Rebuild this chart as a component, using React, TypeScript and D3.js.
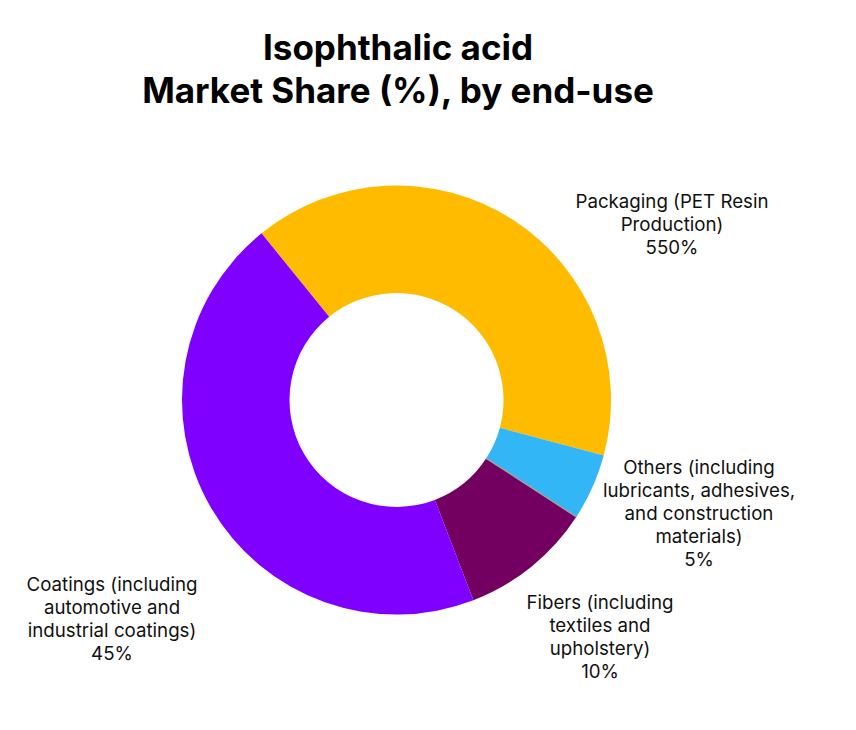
import React from "react";
import * as d3 from "d3";

const categories = [
  "Packaging (PET Resin Production)",
  "Others (including lubricants, adhesives, and construction materials)",
  "Fibers (including textiles and upholstery)",
  "Coatings (including automotive and industrial coatings)",
];
const values = [40, 5, 10, 45];
const valueLabels = ["550%", "5%", "10%", "45%"];
const labelLines = [
  ["Packaging (PET Resin", "Production)", "550%"],
  ["Others (including", "lubricants, adhesives,", "and construction", "materials)", "5%"],
  ["Fibers (including", "textiles and", "upholstery)", "10%"],
  ["Coatings (including", "automotive and", "industrial coatings)", "45%"],
];
const colors = ["#FFBB00", "#33B6F5", "#730060", "#8000FF"];
const titleLines = ["Isophthalic acid", "Market Share (%), by end-use"];

// layout (label anchor offsets relative to donut centre; first line centre)
const labelAnchors: [number, number][] = [
  [275.5, -199],
  [302.5, 67],
  [203.5, 202],
  [-284.5, 184],
];

export default function App() {
  const W = 856, H = 730;
  const cx = 396.5, cy = 400;
  const rOuter = 214.5, rInner = 107;
  const startDeg = -39;
  const pie = d3
    .pie<number>()
    .sort(null)
    .value((d) => d)
    .startAngle((startDeg * Math.PI) / 180)
    .endAngle(((startDeg + 360) * Math.PI) / 180);
  const arcs = pie(values);
  const arc = d3.arc<d3.PieArcDatum<number>>().innerRadius(rInner).outerRadius(rOuter);
  const lineH = 23.2;
  const sepA = arcs[1].endAngle;
  const sx1 = Math.sin(sepA) * rInner, sy1 = -Math.cos(sepA) * rInner;
  const sx2 = Math.sin(sepA) * rOuter, sy2 = -Math.cos(sepA) * rOuter;
  return (
    <svg width={W} height={H} style={{ position: "absolute", left: 0, top: 0, background: "#fff" }}
      fontFamily="Inter, 'Noto Sans', sans-serif">
      <rect width={W} height={H} fill="#fff" />
      {titleLines.map((t, i) => (
        <text key={i} x={398} y={60 + i * 43} textAnchor="middle" fontSize={35} fontWeight={700} fill="#000">
          {t}
        </text>
      ))}
      <g transform={`translate(${cx},${cy})`}>
        {arcs.map((a, i) => (
          <path key={categories[i]} d={arc(a) || ""} fill={colors[i]} />
        ))}
        <line x1={sx1} y1={sy1} x2={sx2} y2={sy2} stroke="#a0a0a0" strokeWidth={1.5} />
        {labelLines.map((lines, i) => (
          <text key={i} textAnchor="middle" fontSize={18.7} fill="#111">
            {lines.map((l, j) => (
              <tspan key={j} x={labelAnchors[i][0]} y={labelAnchors[i][1] + j * lineH + 6.5}>
                {l}
              </tspan>
            ))}
          </text>
        ))}
      </g>
    </svg>
  );
}
